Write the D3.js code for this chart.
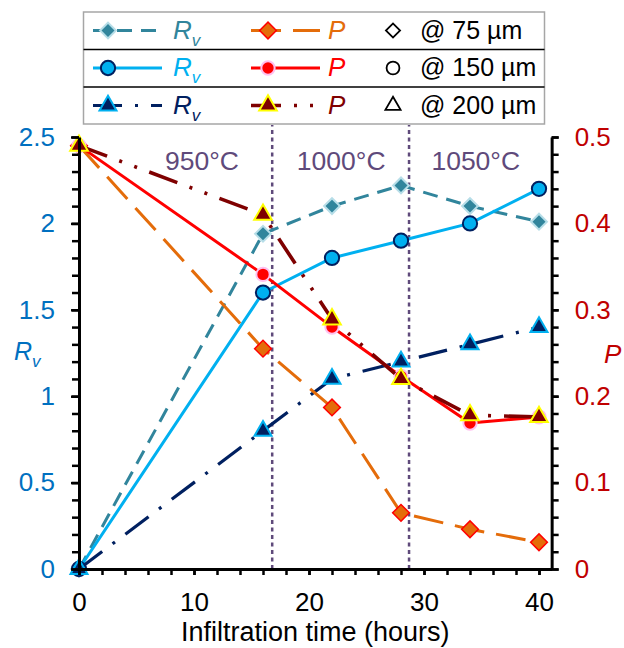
<!DOCTYPE html>
<html>
<head>
<meta charset="utf-8">
<script src="https://cdn.jsdelivr.net/npm/d3@7"></script>
<style>
  html, body { margin: 0; padding: 0; background: #fff; }
  svg { display: block; font-family: "Liberation Sans", Arial, sans-serif; }
</style>
</head>
<body>
<svg id="chart" width="624" height="648"></svg>
<script>
// ---------- data ----------
const hours  = [0, 16, 22, 28, 34, 40];
const rv75   = [0, 1.94, 2.10, 2.22, 2.10, 2.01];
const rv150  = [0, 1.60, 1.80, 1.90, 2.00, 2.20];
const rv200  = [0, 0.80, 1.10, 1.20, 1.30, 1.40];
const p75    = [0.49, 0.255, 0.187, 0.065, 0.046, 0.031];
const p150   = [0.49, 0.341, 0.280, 0.223, 0.169, 0.176];
const p200   = [0.49, 0.410, 0.289, 0.220, 0.178, 0.176];
const tempBoundaries = [16.8, 28.7];
const tempLabels = ["950°C", "1000°C", "1050°C"];
const tempLabelX = [10.7, 22.8, 34.5];
const xTicks = [0, 10, 20, 30, 40];
const leftTicks = [0, 0.5, 1, 1.5, 2, 2.5];
const rightTicks = [0, 0.1, 0.2, 0.3, 0.4, 0.5];
const sizeLabels = ["@ 75 µm", "@ 150 µm", "@ 200 µm"];

// ---------- layout ----------
const svg = d3.select("#chart");
const X0 = 79, X1 = 551.65, Y0 = 569, Y1 = 137;
const x = d3.scaleLinear().domain([0, 41.1]).range([X0, X1]);
const yL = d3.scaleLinear().domain([0, 2.5]).range([Y0, Y1]);
const yR = d3.scaleLinear().domain([0, 0.5]).range([Y0, Y1]);

const FONT = "'Liberation Sans', Arial, sans-serif";
const purple = "#5F4A7B";

// marker helpers
const shapes = {
  diamond: d3.symbol().type(d3.symbolSquare),
  circle: d3.symbol().type(d3.symbolCircle),
  triangle: d3.symbol().type(d3.symbolTriangle)
};
function marker(g, cx, cy, st) {
  const s = shapes[st.shape].size(st.size)();
  g.append("path")
    .attr("d", s)
    .attr("transform", `translate(${cx},${cy})` + (st.shape === "diamond" ? " rotate(45)" : ""))
    .attr("fill", st.fill)
    .attr("stroke", st.mstroke)
    .attr("stroke-width", st.mw);
}

const series = [
  { vals: rv75,  y: yL, color: "#31859C", dash: "15,9", width: 3,
    shape: "diamond", size: 125, fill: "#31859C", mstroke: "#B7DEE8", mw: 2 },
  { vals: rv150, y: yL, color: "#00B0F0", dash: null, width: 3,
    shape: "circle", size: 160, fill: "#00B0F0", mstroke: "#002060", mw: 2 },
  { vals: rv200, y: yL, color: "#002060", dash: "29,13,3,13", width: 3.2,
    shape: "triangle", size: 125, fill: "#002060", mstroke: "#00B0F0", mw: 2 },
  { vals: p75,   y: yR, color: "#E46C0A", dash: "30,12", width: 3,
    shape: "diamond", size: 140, fill: "#E46C0A", mstroke: "#FF0000", mw: 1.5 },
  { vals: p150,  y: yR, color: "#FF0000", dash: null, width: 3,
    shape: "circle", size: 140, fill: "#FF0000", mstroke: "#FFC0F0", mw: 2 },
  { vals: p200,  y: yR, color: "#7F0000", dash: "30,13,3,13,3,13", width: 3.6,
    shape: "triangle", size: 135, fill: "#7F0000", mstroke: "#FFFF00", mw: 2 }
];

// ---------- temperature boundaries ----------
const gb = svg.append("g");
tempBoundaries.forEach(b => {
  gb.append("line")
    .attr("x1", x(b)).attr("x2", x(b))
    .attr("y1", yL(0)).attr("y2", yL(2.57))
    .attr("stroke", purple).attr("stroke-width", 2.5)
    .attr("stroke-dasharray", "4,3.5");
});
tempLabels.forEach((t, i) => {
  gb.append("text")
    .attr("x", x(tempLabelX[i])).attr("y", 170)
    .attr("text-anchor", "middle")
    .attr("font-size", 26.5).attr("fill", purple)
    .text(t);
});

// ---------- series ----------
const gs = svg.append("g");
series.forEach(s => {
  const pts = hours.map((h, i) => [x(h), s.y(s.vals[i])]);
  gs.append("path")
    .attr("d", d3.line()(pts))
    .attr("fill", "none")
    .attr("stroke", s.color)
    .attr("stroke-width", s.width)
    .attr("stroke-dasharray", s.dash)
    .attr("stroke-linejoin", "round");
  const gm = gs.append("g");
  pts.forEach(p => marker(gm, p[0], p[1], s));
});

// ---------- axes ----------
function styleAxis(g, color) {
  g.select(".domain").attr("stroke", "#000").attr("stroke-width", 3);
  g.selectAll(".tick line").attr("stroke", "#000").attr("stroke-width", 2.5);
  g.selectAll(".tick text").attr("fill", color).attr("font-size", 26).attr("font-family", FONT);
}
// x axis
const xMinor = d3.range(0, 41, 2);
svg.append("g").attr("transform", `translate(0,${Y0})`)
  .call(d3.axisBottom(x).tickValues(xMinor).tickSize(6).tickSizeOuter(0).tickFormat(""))
  .call(g => styleAxis(g, "#000"));
svg.append("g").attr("transform", `translate(0,${Y0})`)
  .call(d3.axisBottom(x).tickValues(xTicks).tickSize(6).tickPadding(18).tickSizeOuter(0).tickFormat(d3.format("d")))
  .call(g => styleAxis(g, "#000"))
  .call(g => g.select(".domain").remove());

// left axis
const lMinor = d3.range(0, 2.51, 0.1);
svg.append("g").attr("transform", `translate(${X0},0)`)
  .call(d3.axisLeft(yL).tickValues(lMinor).tickSize(7).tickSizeOuter(0).tickFormat(""))
  .call(g => styleAxis(g, "#0070C0"));
svg.append("g").attr("transform", `translate(${X0},0)`)
  .call(d3.axisLeft(yL).tickValues(leftTicks).tickSize(8).tickPadding(16).tickSizeOuter(0).tickFormat(d => String(+d.toFixed(1))))
  .call(g => styleAxis(g, "#0070C0"))
  .call(g => g.select(".domain").remove());

// right axis
const rMinor = d3.range(0, 0.501, 0.02);
svg.append("g").attr("transform", `translate(${X1},0)`)
  .call(d3.axisRight(yR).tickValues(rMinor).tickSize(7).tickSizeOuter(0).tickFormat(""))
  .call(g => styleAxis(g, "#C00000"));
svg.append("g").attr("transform", `translate(${X1},0)`)
  .call(d3.axisRight(yR).tickValues(rightTicks).tickSize(7).tickPadding(16).tickSizeOuter(0).tickFormat(d => String(+d.toFixed(1))))
  .call(g => styleAxis(g, "#C00000"))
  .call(g => g.select(".domain").remove());

// axis titles
svg.append("text")
  .attr("x", (X0 + X1) / 2).attr("y", 641)
  .attr("text-anchor", "middle").attr("font-size", 27).attr("fill", "#000")
  .text("Infiltration time (hours)");

function rvText(g, tx, ty, color, fs, subfs) {
  const t = g.append("text").attr("x", tx).attr("y", ty).attr("fill", color)
    .attr("font-size", fs).attr("font-style", "italic");
  t.append("tspan").text("R");
  t.append("tspan").attr("font-size", subfs).attr("dy", 7).text("v");
  return t;
}
rvText(svg, 14, 360, "#0070C0", 25, 17);
svg.append("text").attr("x", 604).attr("y", 363)
  .attr("fill", "#C00000").attr("font-size", 26).attr("font-style", "italic").text("P");

// ---------- legend ----------
const lg = svg.append("g");
const LX0 = 83.5, LX1 = 544.5, LY0 = 12, LY1 = 124;
lg.append("rect").attr("x", LX0).attr("y", LY0)
  .attr("width", LX1 - LX0).attr("height", LY1 - LY0)
  .attr("fill", "#fff").attr("stroke", "#A6A6A6").attr("stroke-width", 1.5);
[49.5, 87].forEach(yy => {
  lg.append("line").attr("x1", LX0).attr("x2", LX1).attr("y1", yy).attr("y2", yy)
    .attr("stroke", "#000").attr("stroke-width", 1.5);
});
const rowY = [30.5, 68, 105.5];
const hollow = ["diamond", "circle", "triangle"];
[0, 1, 2].forEach(r => {
  const cy = rowY[r];
  const sr = series[r], sp = series[r + 3];
  [[sr, 93, 162, 108], [sp, 251, 320, 268]].forEach(([s, a, b, m]) => {
    lg.append("line").attr("x1", a).attr("x2", b).attr("y1", cy).attr("y2", cy)
      .attr("stroke", s.color).attr("stroke-width", s.width)
      .attr("stroke-dasharray", s.dash);
    marker(lg, m, cy, s);
  });
  rvText(lg, 173, cy + 8, sr.color, 26, 17);
  lg.append("text").attr("x", 328).attr("y", cy + 8).attr("fill", sp.color)
    .attr("font-size", 26).attr("font-style", "italic").text("P");
  marker(lg, 393, cy, { shape: hollow[r], size: hollow[r] === "circle" ? 130 : 100,
    fill: "none", mstroke: "#000", mw: 1.8 });
  lg.append("text").attr("x", 420).attr("y", cy + 8).attr("fill", "#000")
    .attr("font-size", 25).text(sizeLabels[r]);
});
</script>
</body>
</html>
